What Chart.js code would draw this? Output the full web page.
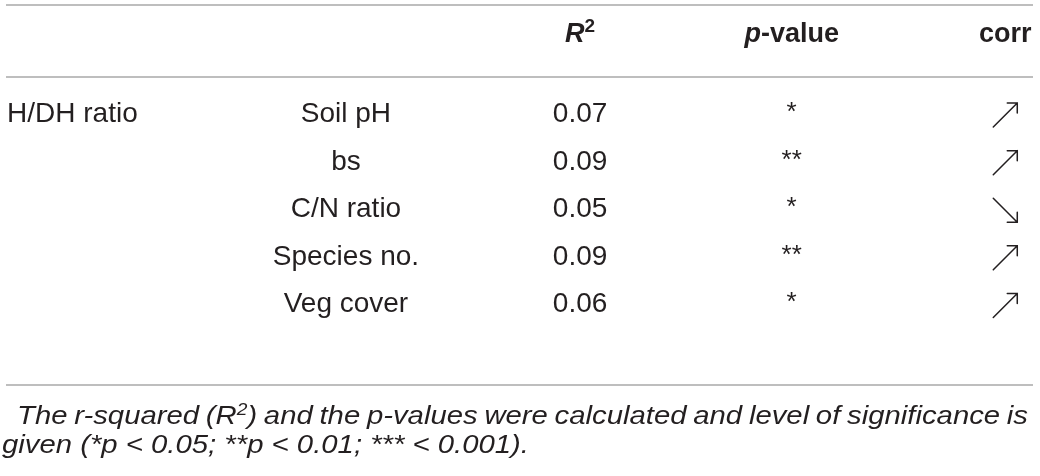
<!DOCTYPE html>
<html><head><meta charset="utf-8">
<script src="https://cdn.jsdelivr.net/npm/chart.js@4/dist/chart.umd.min.js"></script>
<style>html,body{margin:0;padding:0;background:#fff;}#wrap{width:1040px;height:476px;position:relative;}</style>
</head><body><div id="wrap"><canvas id="c" width="1040" height="476"></canvas></div>
<script>
// ---- data ----
const groupLabel = 'H/DH ratio';
const variables = ['Soil pH', 'bs', 'C/N ratio', 'Species no.', 'Veg cover'];
const rSquared = [0.07, 0.09, 0.05, 0.09, 0.06];
const pStars = ['*', '**', '*', '**', '*'];
const corrDir = ['up', 'up', 'down', 'up', 'up'];
const headerLabels = ['', '', 'R2', 'p-value', 'corr'];
const footLine1 = 'The r-squared (R^2) and the p-values were calculated and level of significance is';
const footLine2 = 'given (*p < 0.05; **p < 0.01; *** < 0.001).';

// ---- layout ----
const colAnchor = [0.001, 0.331, 0.559, 0.765, 0.973];
const headerRow = -1.67, topRuleRow = -2.25;
const FONT = '"Liberation Sans", Arial, Helvetica, sans-serif';
const TXT = '#231f20', RULE = '#a8a8a8';

function rowPoints(col, n) { return Array.from({length: n}, (_, i) => ({x: colAnchor[col], y: i})); }

function drawSegs(ctx, segs, x, y, align) {
  let w = 0;
  segs.forEach(s => { ctx.font = s.font; s.w = ctx.measureText(s.t).width; w += s.w; });
  let cx = align === 'center' ? x - w / 2 : (align === 'right' ? x - w : x);
  segs.forEach(s => { ctx.font = s.font; ctx.fillText(s.t, cx, y + (s.dy || 0)); cx += s.w; });
  return w;
}
function segWidth(ctx, segs) { let w = 0; segs.forEach(s => { ctx.font = s.font; w += ctx.measureText(s.t).width; }); return w; }

function wordSegs(word, font, supFont) {
  if (word.indexOf('^') < 0) return [{t: word, font}];
  const m = word.match(/^(.*)\^(\d)(.*)$/);
  return [{t: m[1], font}, {t: m[2], font: supFont, dy: -9}, {t: m[3], font}];
}

const tablePlugin = {
  id: 'tableText',
  afterDatasetsDraw(chart) {
    const {ctx, chartArea: a, scales: {x, y}} = chart;
    ctx.save();
    // rules
    ctx.strokeStyle = RULE; ctx.lineWidth = 1.5;
    [y.getPixelForValue(topRuleRow), a.top, a.bottom].forEach(py => {
      ctx.beginPath(); ctx.moveTo(a.left, py); ctx.lineTo(a.right, py); ctx.stroke();
    });
    ctx.fillStyle = TXT; ctx.strokeStyle = TXT; ctx.textBaseline = 'alphabetic';
    // header
    const hy = y.getPixelForValue(headerRow) + 9.5;
    const B = 'bold 27px ' + FONT, BI = 'italic bold 27px ' + FONT;
    headerLabels.forEach((h, c) => {
      if (!h) return;
      const hx = x.getPixelForValue(colAnchor[c]);
      let segs;
      if (h === 'R2') segs = [{t: 'R', font: BI}, {t: '2', font: 'bold 19px ' + FONT, dy: -10}];
      else if (h === 'p-value') segs = [{t: 'p', font: BI}, {t: '-value', font: B}];
      else segs = [{t: h, font: B}];
      drawSegs(ctx, segs, hx, hy, 'center');
    });
    // body
    const F = '28px ' + FONT;
    const metas = chart.data.datasets.map((d, i) => chart.getDatasetMeta(i));
    ctx.font = F;
    const g = metas[0].data[0];
    ctx.textAlign = 'left'; ctx.fillText(groupLabel, g.x, g.y + 10);
    ctx.textAlign = 'center';
    metas[1].data.forEach((p, i) => ctx.fillText(variables[i], p.x, p.y + 10));
    metas[2].data.forEach((p, i) => ctx.fillText(rSquared[i].toFixed(2), p.x, p.y + 10));
    ctx.font = '26px ' + FONT;
    metas[3].data.forEach((p, i) => ctx.fillText(pStars[i], p.x, p.y + 8));
    // arrows
    ctx.lineWidth = 1.5; ctx.lineCap = 'round';
    metas[4].data.forEach((p, i) => {
      const cx = p.x, cy = p.y + 3, h = 12, hd = 10;
      ctx.beginPath();
      if (corrDir[i] === 'up') {
        ctx.moveTo(cx - h, cy + h); ctx.lineTo(cx + h, cy - h);
        ctx.moveTo(cx + h - hd, cy - h); ctx.lineTo(cx + h, cy - h); ctx.lineTo(cx + h, cy - h + hd);
      } else {
        ctx.moveTo(cx - h, cy - h); ctx.lineTo(cx + h, cy + h);
        ctx.moveTo(cx + h - hd, cy + h); ctx.lineTo(cx + h, cy + h); ctx.lineTo(cx + h, cy + h - hd);
      }
      ctx.stroke();
    });
    // footnote (horizontally widened italic to match the reference face)
    ctx.textAlign = 'left';
    const FI = 'italic 26px ' + FONT, FS = 'italic 17px ' + FONT;
    ctx.font = FI;
    const sx = 527 / ctx.measureText(footLine2).width;
    ctx.save();
    ctx.scale(sx, 1);
    const words = footLine1.split(' ').map(w => wordSegs(w, FI, FS));
    const ws = words.map(s => segWidth(ctx, s));
    const x0 = 17 / sx, x1 = 1028 / sx;
    const gap = (x1 - x0 - ws.reduce((s, v) => s + v, 0)) / (words.length - 1);
    let cx = x0;
    words.forEach((s, i) => { drawSegs(ctx, s, cx, 424, 'left'); cx += ws[i] + gap; });
    ctx.font = FI;
    ctx.fillText(footLine2, 2 / sx, 453);
    ctx.restore();
    ctx.restore();
  }
};

new Chart(document.getElementById('c'), {
  type: 'scatter',
  data: {
    datasets: [
      {label: 'group', data: rowPoints(0, 1)},
      {label: 'variable', data: rowPoints(1, variables.length)},
      {label: 'R2', data: rowPoints(2, rSquared.length)},
      {label: 'p', data: rowPoints(3, pStars.length)},
      {label: 'corr', data: rowPoints(4, corrDir.length)}
    ].map(d => Object.assign(d, {pointRadius: 0, pointHoverRadius: 0, showLine: false}))
  },
  options: {
    responsive: false, animation: false, events: [],
    layout: {padding: {left: 6, right: 7, top: 77, bottom: 91}},
    plugins: {legend: {display: false}, tooltip: {enabled: false}},
    scales: {
      x: {type: 'linear', min: 0, max: 1, display: false},
      y: {type: 'linear', reverse: true, min: -0.737, max: 5.735, display: false}
    }
  },
  plugins: [tablePlugin]
});
</script></body></html>
